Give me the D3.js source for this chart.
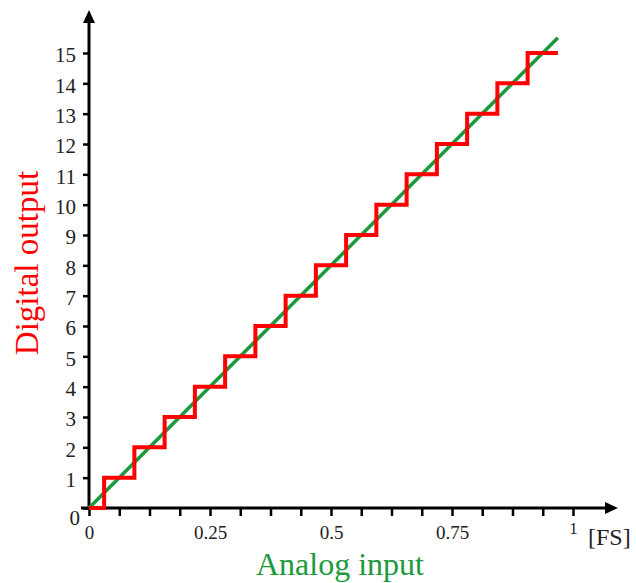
<!DOCTYPE html>
<html>
<head>
<meta charset="utf-8">
<script src="https://cdn.jsdelivr.net/npm/d3@7"></script>
<style>
  html, body { margin: 0; padding: 0; background: #fff; }
  svg text { font-family: "Liberation Serif", "DejaVu Serif", serif; }
</style>
</head>
<body>
<div id="chart"></div>
<script>
// Output codes of the 4-bit converter
const codes = [0, 1, 2, 3, 4, 5, 6, 7, 8, 9, 10, 11, 12, 13, 14, 15];
// Analog input (FS) where each code begins (transition points), and where the last step ends
const codeStart = [0, 0.03125, 0.09375, 0.15625, 0.21875, 0.28125, 0.34375, 0.40625,
                   0.46875, 0.53125, 0.59375, 0.65625, 0.71875, 0.78125, 0.84375, 0.90625];
const lastStepEnd = 0.96875;
// Ideal transfer line
const idealIn = [0, 0.96875];
const idealOut = [0, 15.5];
// X axis ticks (every 1/16 FS) and labels
const xTicks = [0, 0.0625, 0.125, 0.1875, 0.25, 0.3125, 0.375, 0.4375, 0.5,
                0.5625, 0.625, 0.6875, 0.75, 0.8125, 0.875, 0.9375, 1];
const xLabels = [0, 0.25, 0.5, 0.75, 1];

const width = 636, height = 583;
const red = "#ff0000", green = "#1a9a3c";

const svg = d3.select("#chart").append("svg")
    .attr("width", width)
    .attr("height", height);

const x = d3.scaleLinear().domain([0, 1]).range([89, 573]);
const y = d3.scaleLinear().domain([0, 15]).range([508, 53]);

// Axes lines with arrows
svg.append("line")
    .attr("x1", 81).attr("x2", 606)
    .attr("y1", y(0)).attr("y2", y(0))
    .attr("stroke", "#000").attr("stroke-width", 3);
svg.append("path")
    .attr("d", `M605,${y(0) - 6}L618,${y(0)}L605,${y(0) + 6}Z`)
    .attr("fill", "#000");
svg.append("line")
    .attr("x1", x(0)).attr("x2", x(0))
    .attr("y1", y(0) + 1.5).attr("y2", 22)
    .attr("stroke", "#000").attr("stroke-width", 3);
svg.append("path")
    .attr("d", `M${x(0) - 6},23L${x(0)},10L${x(0) + 6},23Z`)
    .attr("fill", "#000");

// Y axis ticks + labels
const yAxis = svg.append("g")
    .attr("transform", `translate(${x(0)},0)`)
    .call(d3.axisLeft(y).tickValues(codes).tickSize(6).tickPadding(7).tickFormat(d3.format("d")));
yAxis.select(".domain").remove();
yAxis.selectAll(".tick line").attr("stroke", "#000").attr("stroke-width", 2.5);
yAxis.selectAll(".tick text")
    .style("font-size", "21px")
    .attr("fill", "#222")
    .attr("dy", d => d === 0 ? "0.8em" : "0.42em")
    .attr("x", d => d === 0 ? -9 : -13);

// X axis ticks + labels
const xAxis = svg.append("g")
    .attr("transform", `translate(0,${y(0)})`)
    .call(d3.axisBottom(x).tickValues(xTicks).tickSize(8)
        .tickFormat(d => xLabels.includes(d) ? d3.format("")(d) : ""));
xAxis.select(".domain").remove();
xAxis.selectAll(".tick line").attr("stroke", "#000").attr("stroke-width", 2.5);
xAxis.selectAll(".tick text")
    .style("font-size", d => d === 1 ? "17px" : "19px")
    .attr("fill", "#222")
    .attr("dy", 0)
    .attr("y", d => d === 1 ? 26 : 31);

svg.append("text")
    .attr("x", 588).attr("y", 545)
    .style("font-size", "24px")
    .attr("fill", "#222")
    .text("[FS]");

// Ideal (analog) line
const line = d3.line().x(d => x(d[0])).y(d => y(d[1]));
svg.append("path")
    .datum(d3.zip(idealIn, idealOut))
    .attr("d", line)
    .attr("fill", "none")
    .attr("stroke", green)
    .attr("stroke-width", 3.5);

// Quantizer staircase
const stairPts = [];
codes.forEach((c, i) => {
    const end = i < codes.length - 1 ? codeStart[i + 1] : lastStepEnd;
    stairPts.push([codeStart[i], c], [end, c]);
});
svg.append("path")
    .datum(stairPts)
    .attr("d", line)
    .attr("fill", "none")
    .attr("stroke", red)
    .attr("stroke-width", 4)
    .attr("stroke-linejoin", "miter");

// Axis titles
svg.append("text")
    .attr("x", 340).attr("y", 575)
    .attr("text-anchor", "middle")
    .style("font-size", "32px")
    .attr("fill", green)
    .text("Analog input");

svg.append("text")
    .attr("transform", "translate(38,263) rotate(-90)")
    .attr("text-anchor", "middle")
    .style("font-size", "33px")
    .attr("fill", red)
    .text("Digital output");
</script>
</body>
</html>
